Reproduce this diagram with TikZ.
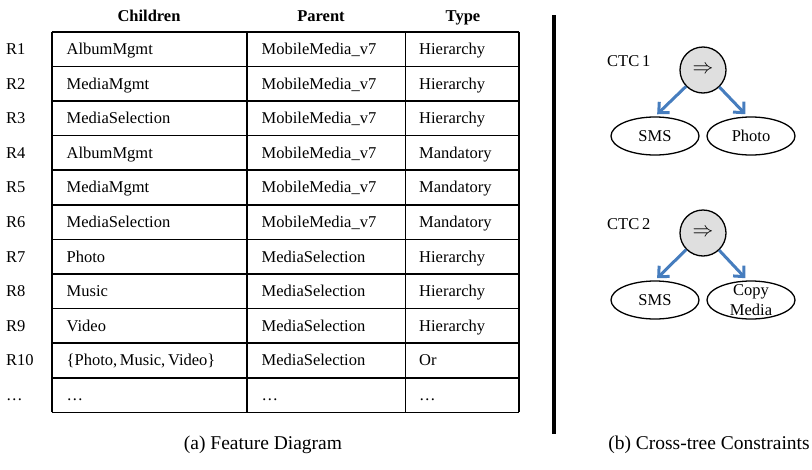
\documentclass[tikz,border=0pt]{standalone}
\usepackage{fontspec}
\setmainfont{Liberation Serif}
\usetikzlibrary{arrows.meta,shapes.geometric}
\definecolor{ctcblue}{RGB}{70,125,190}
\newcommand{\cellfont}{\fontsize{16.5}{20}\selectfont}
\tikzstyle{rowlabel}=[anchor=base west, inner sep=0pt]
\tikzstyle{cell}=[anchor=base west, inner sep=0pt]
\tikzstyle{header}=[anchor=base, inner sep=0pt, font=\cellfont\bfseries]
\tikzstyle{caption}=[anchor=base, inner sep=0pt, font=\fontsize{19.5}{23}\selectfont]
\tikzstyle{implies}=[draw,%
                     circle,%
                     fill=gray!25,%
                     line width=1.3pt,%
                     minimum size=46pt,%
                     font=\fontsize{21}{24}\selectfont]
\tikzstyle{feature}=[draw, ellipse, line width=1.3pt, align=center,%
                     inner sep=0pt, inner ysep=-6pt,%
                     minimum width=88pt, minimum height=38pt]
\tikzstyle{ctcarrow}=[-{Straight Barb[length=8pt,width=15pt]}, ctcblue,%
                      line width=3pt, shorten >=3pt]

\begin{document}
\begin{tikzpicture}[x=1pt,y=-1pt,font=\cellfont]
  \useasboundingbox (0,0) rectangle (812,469);

  % table head
  \node[header] (hchild)  at (149,21) {Children};
  \node[header] (hparent) at (321,21) {Parent};
  \node[header] (htype)   at (463,21) {Type};

  % grid
  \foreach \k in {0,...,11}
    \draw[line width=1.6pt] (51.7,31.7+34.6*\k) -- (519,31.7+34.6*\k);
  \foreach \xx in {51.7,247,405.5,519}
    \draw[line width=1.6pt] (\xx,31.7) -- (\xx,412.3);

  % rows
  \foreach \r/\c/\p/\t [count=\i from 0] in {%
      R1/AlbumMgmt/MobileMedia\_v7/Hierarchy,
      R2/MediaMgmt/MobileMedia\_v7/Hierarchy,
      R3/MediaSelection/MobileMedia\_v7/Hierarchy,
      R4/AlbumMgmt/MobileMedia\_v7/Mandatory,
      R5/MediaMgmt/MobileMedia\_v7/Mandatory,
      R6/MediaSelection/MobileMedia\_v7/Mandatory,
      R7/Photo/MediaSelection/Hierarchy,
      R8/Music/MediaSelection/Hierarchy,
      R9/Video/MediaSelection/Hierarchy,
      R10/{\{Photo,\,Music,\,Video\}}/MediaSelection/Or,
      \dots/\dots/\dots/\dots} {
    \node[rowlabel] (row\i)    at (6,54.5+34.6*\i)     {\r};
    \node[cell]     (child\i)  at (66.5,54.5+34.6*\i)  {\c};
    \node[cell]     (parent\i) at (261.5,54.5+34.6*\i) {\p};
    \node[cell]     (type\i)   at (419,54.5+34.6*\i)   {\t};
  }

  % separator
  \coordinate (septop) at (554,15);
  \coordinate (sepbot) at (554,434);
  \draw[line width=3.4pt] (septop) -- (sepbot);

  % CTC 1
  \node[anchor=base west, inner sep=0pt] (ctc1) at (607,66) {CTC\,1};
  \node[implies] (imp1) at (703,70) {$\Rightarrow$};
  \node[feature] (sms1) at (655,136) {SMS};
  \node[feature] (photo1) at (751,136) {Photo};
  \draw[ctcarrow] (imp1) -- (sms1.north);
  \draw[ctcarrow] (imp1) -- (photo1.100);

  % CTC 2
  \node[anchor=base west, inner sep=0pt] (ctc2) at (607,229) {CTC\,2};
  \node[implies] (imp2) at (703,233) {$\Rightarrow$};
  \node[feature] (sms2) at (655,300) {SMS};
  \node[feature] (copy2) at (751,300) {Copy\\Media};
  \draw[ctcarrow] (imp2) -- (sms2.north);
  \draw[ctcarrow] (imp2) -- (copy2.100);

  % captions
  \node[caption] (capa) at (263,449) {(a) Feature Diagram};
  \node[caption] (capb) at (709,449) {(b) Cross-tree Constraints};
\end{tikzpicture}
\end{document}
